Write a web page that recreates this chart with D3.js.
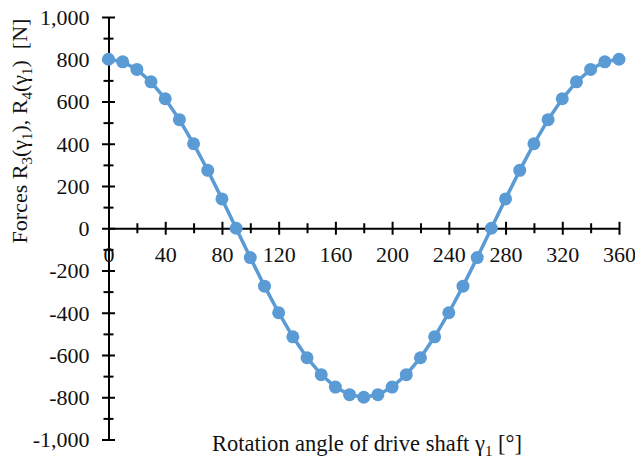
<!DOCTYPE html>
<html>
<head>
<meta charset="utf-8">
<script src="https://cdn.jsdelivr.net/npm/d3@7"></script>
<style>
  html, body { margin: 0; padding: 0; background: #fff; }
  svg { display: block; }
  text { font-family: "Liberation Serif", "Times New Roman", serif; fill: #111; }
</style>
</head>
<body>
<svg id="chart" width="635" height="466"></svg>
<script>
// ---- data ----
const angles = [0,10,20,30,40,50,60,70,80,90,100,110,120,130,140,150,160,170,180,
                190,200,210,220,230,240,250,260,270,280,290,300,310,320,330,340,350,360];
const forces = [800,788,752,693,613,514,400,274,139,0,-139,-274,-400,-514,-613,-693,-752,-788,-800,
                -788,-752,-693,-613,-514,-400,-274,-139,0,139,274,400,514,613,693,752,788,800];
const xMajorTicks = [0,40,80,120,160,200,240,280,320,360];
const xMinorTicks = [20,60,100,140,180,220,260,300,340];
const yMajorTicks = [-1000,-800,-600,-400,-200,0,200,400,600,800,1000];
const yMinorTicks = [-900,-700,-500,-300,-100,100,300,500,700,900];

const svg = d3.select("#chart");
const x = d3.scaleLinear().domain([0, 360]).range([108.5, 619]);
const y = d3.scaleLinear().domain([-1000, 1000]).range([439.5, 17]);

const locale = d3.formatLocale({decimal: ".", thousands: ",", grouping: [3], currency: ["", ""], minus: "-"});
const fmt = locale.format(",");

const FS = 22;

// y axis
const yAxisG = svg.append("g").attr("transform", `translate(${x(0)},0)`);
yAxisG.call(d3.axisLeft(y).tickValues(yMajorTicks).tickFormat(fmt).tickSizeOuter(0).tickSizeInner(6));
yAxisG.selectAll(".tick line").attr("x1", -6.5).attr("x2", 6.5).attr("stroke", "#000").attr("stroke-width", 2);
yAxisG.selectAll(".tick text").attr("x", -19).attr("dy", "0.34em")
  .style("font-size", FS + "px").style("font-family", "Liberation Serif").attr("fill", "#111");
yAxisG.select(".domain").attr("stroke", "#000").attr("stroke-width", 2);
const yMinorG = svg.append("g").attr("transform", `translate(${x(0)},0)`);
yMinorG.call(d3.axisLeft(y).tickValues(yMinorTicks).tickFormat("").tickSizeOuter(0));
yMinorG.select(".domain").remove();
yMinorG.selectAll(".tick line").attr("x1", -5).attr("x2", 5).attr("stroke", "#000").attr("stroke-width", 2);

// x axis at y = 0
const xAxisG = svg.append("g").attr("transform", `translate(0,${y(0)})`);
xAxisG.call(d3.axisBottom(x).tickValues(xMajorTicks).tickFormat(d3.format("d")).tickSizeOuter(0));
xAxisG.selectAll(".tick line").attr("y1", -6.5).attr("y2", 6.5).attr("stroke", "#000").attr("stroke-width", 2);
xAxisG.selectAll(".tick text").attr("y", 34).attr("dy", 0)
  .style("font-size", FS + "px").style("font-family", "Liberation Serif").attr("fill", "#111");
xAxisG.select(".domain").attr("stroke", "#000").attr("stroke-width", 2);
const xMinorG = svg.append("g").attr("transform", `translate(0,${y(0)})`);
xMinorG.call(d3.axisBottom(x).tickValues(xMinorTicks).tickFormat("").tickSizeOuter(0));
xMinorG.select(".domain").remove();
xMinorG.selectAll(".tick line").attr("y1", -5).attr("y2", 5).attr("stroke", "#000").attr("stroke-width", 2);

// series
const data = angles.map((a, i) => ({a, f: forces[i]}));
const color = "#5B9BD5";
svg.append("path").datum(data)
  .attr("fill", "none").attr("stroke", color).attr("stroke-width", 3.5)
  .attr("d", d3.line().x(d => x(d.a)).y(d => y(d.f)));
svg.append("g").selectAll("circle").data(data).join("circle")
  .attr("cx", d => x(d.a)).attr("cy", d => y(d.f)).attr("r", 6.5).attr("fill", color);

// x title
const xt = svg.append("text").attr("x", 367).attr("y", 451).attr("text-anchor", "middle")
  .style("font-size", "22.5px");
xt.append("tspan").text("Rotation angle of drive shaft γ");
xt.append("tspan").attr("dy", 5).style("font-size", "15px").text("1");
xt.append("tspan").attr("dy", -5).text(" [°]");

// y title
const yt = svg.append("text").attr("transform", "translate(27,131) rotate(-90)").attr("text-anchor", "middle")
  .style("font-size", "22px");
yt.append("tspan").text("Forces R");
yt.append("tspan").attr("dy", 5).style("font-size", "15px").text("3");
yt.append("tspan").attr("dy", -5).text("(γ");
yt.append("tspan").attr("dy", 5).style("font-size", "15px").text("1");
yt.append("tspan").attr("dy", -5).text("), R");
yt.append("tspan").attr("dy", 5).style("font-size", "15px").text("4");
yt.append("tspan").attr("dy", -5).text("(γ");
yt.append("tspan").attr("dy", 5).style("font-size", "15px").text("1");
yt.append("tspan").attr("dy", -5).text(")\u00a0\u00a0[N]");
</script>
</body>
</html>
